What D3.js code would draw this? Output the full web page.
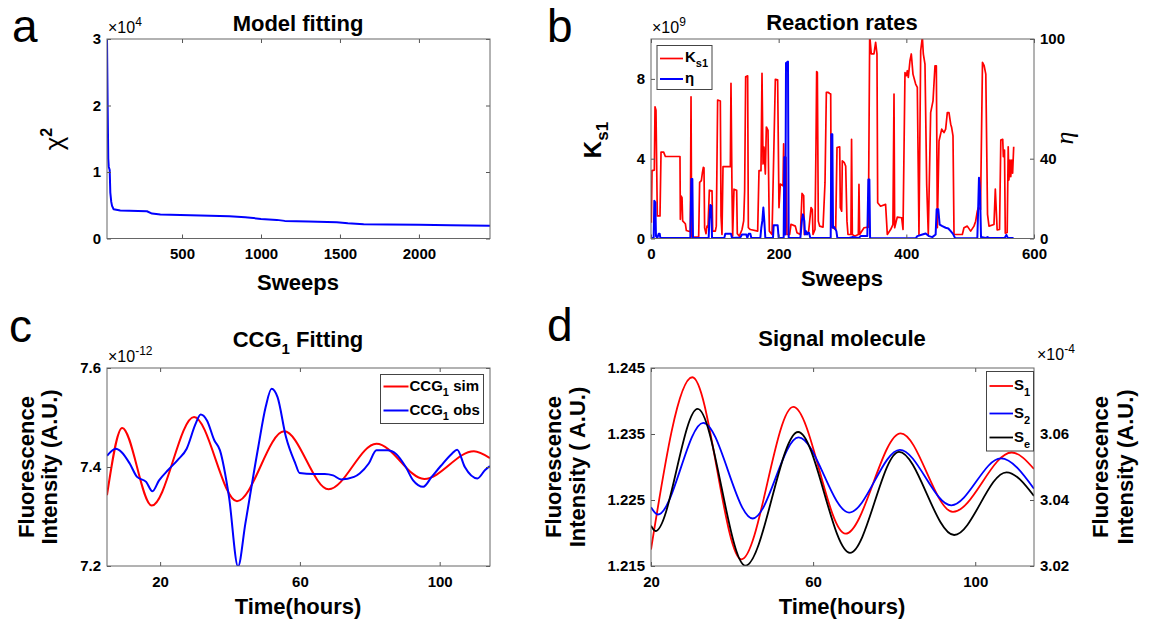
<!DOCTYPE html>
<html>
<head>
<meta charset="utf-8">
<script src="https://cdn.jsdelivr.net/npm/d3@7"></script>
<style>
body { margin: 0; background: #fff; }
</style>
</head>
<body>
<svg id="fig" width="1152" height="629"></svg>
<script>
// ---- data ----
// a: model fitting (chi^2 in units of 1e4)
var fitSweeps = [25, 29, 33, 36, 42, 46, 52, 57, 67, 109, 278, 310, 363, 616, 800, 900, 1000, 1100, 1150, 1300, 1480, 1550, 1650, 1800, 2000, 2200, 2450];
var fitChi2   = [3.0, 2.03, 1.2, 1.08, 1.03, 0.69, 0.55, 0.49, 0.44, 0.42, 0.41, 0.375, 0.36, 0.345, 0.335, 0.32, 0.295, 0.28, 0.265, 0.255, 0.245, 0.23, 0.215, 0.21, 0.205, 0.2, 0.19];

// b: reaction rates, Ks1 (units of 1e9) and eta
var ks1Sweep = [0.5,1.6,5.2,6.3,7.8,9.9,14.1,15.7,19.8,22.5,45.4,46,47,48.6,49.6,53.8,55.4,61.6,62.7,63.7,74.7,76.2,78.9,80.4,82,83,84,86.2,87.7,89.3,91.4,95.6,96.6,100.8,102.3,104.4,108.6,109.7,111.2,112.8,124.3,125.3,126.9,127.9,130,134.2,135.2,138.4,142.6,145.2,146.7,148.3,151.4,152.5,155.6,167.1,169.2,172.3,173.9,175.5,177,179.1,180.7,183.3,185.4,189.6,194.8,198.4,200.5,202.6,206.8,207.8,209.4,211.5,213,217.2,219.3,226.1,228.7,234,236.6,239.2,240.2,244.4,247,250.7,252.7,253.8,256.9,258.5,259.5,260.6,262.1,264.2,269.5,272.6,274.7,277.8,279.9,281.5,282.5,285.1,289.3,291.4,295.6,296.6,298.7,299.7,302.9,305,307,308.6,313.2,314.2,315.4,319.6,324.8,325.8,326.9,333.7,340.5,342.6,345.1,349.3,351.9,354,355.1,359.6,367.5,370.2,375.4,379,380.7,381.7,385.8,392.7,394.8,397.9,400,401.6,403.1,405.7,407.8,410.4,414.6,417.2,419.8,422.5,425.1,426.6,429.2,431.9,434.4,438.1,441.8,444.9,447,448.6,451.2,455.4,459,461.6,464.2,466.8,469.5,471,473.1,474.7,487.7,490.3,495.5,500.8,506,508.6,511.2,512.8,516.2,519.3,521.9,524.5,527.2,529.5,537.3,539.4,542.3,546,548,551,552,553.8,555,558,559.6,560.7,562.5,563.6,565.3,566.5,568.2];
var ks1Val = [0.79,3.4,3.43,6.6,6.43,1.13,1.13,4.33,4.33,4.11,4.11,0.96,2.14,2.05,0.88,0.74,0.4,0.34,7.1,0.07,0.07,2.81,2.9,3.27,3.57,3.54,0.54,0.24,0.62,0.57,2.42,2.39,0.37,0.37,0.62,6.94,6.89,1.13,0.2,3.6,3.6,7.78,2.39,0.12,2.47,2.42,0.24,0.12,0.45,0.88,2.39,8.11,8.15,0.54,0.45,0.37,3.4,3.4,8.28,3.74,4.58,3.23,5.59,5.42,0.37,0.2,7.98,7.95,1.55,2.73,2.64,4.75,1.46,4.07,0.2,0.2,0.71,0.62,0.29,0.2,2.26,2.14,0.2,0.24,0.37,1.55,1.46,0.2,0.45,4.75,8.37,8.32,0.87,0.62,0.57,2.8,7.32,7.32,7.27,7.24,0.57,0.54,0.45,4.56,4.59,1.54,1.37,3.89,3.8,3.63,0.87,0.2,0.2,4.97,0.2,0.12,0.2,2.71,0.2,0.54,0.57,10.2,9.25,9.25,9.83,9.25,1.79,1.62,1.71,0.2,0.45,0.7,7.24,0.54,1.07,1.04,0.45,8.32,8.16,8.41,8.07,8.91,9.25,8.24,7.74,7.57,0.2,9.41,10.1,9.25,8.74,2.71,0.2,6.31,6.9,8.66,8.66,0.54,4.89,5.48,5.31,5.48,6.31,6.31,5.73,5.56,5.14,0.2,0.2,0.54,0.62,0.37,0.62,0.87,1.37,1.54,1.46,8.83,8.66,8.24,1.21,0.62,0.7,2.48,0.43,0.45,4.93,4.97,4.1,4.43,0.27,0.3,4.6,2.93,3.93,3.1,3.93,3.27,4.6];
var etaSweep = [0.5,4.2,5.2,6.8,7.8,10,12,13.6,14.6,61.6,63.2,64.8,65.8,90.3,91.4,92.9,94.5,95.6,114.9,116.4,125.3,126.9,139.9,142.6,149.3,150.9,153,155.6,157.2,171.3,172.8,174.4,176,177.5,179.1,191.1,192.2,198.4,200,207.8,208.9,210.4,211.5,214.6,215.7,234,236.6,238.1,240.2,241.3,242.8,244.4,246,247.5,249.6,281.5,282.5,284.1,285.1,287.2,290.4,291.9,310.2,315.4,325.8,328.5,338.9,340.5,342.1,343.2,414.6,417.2,425.1,430.3,435.5,440.7,445.9,447.5,450.1,452.2,456.4,461.6,465.8,469.5,473.1,476.2,511.2,512.3,513.8,515.4,517,524.5,527.2,529.5,554,556.7,559,568];
var etaVal = [0.3,0.3,18.9,18,1.2,0.3,2.4,2.4,0.3,0.3,29.8,29.8,0.3,0.3,8.8,16.8,16.3,0.3,0.3,2.4,2.4,0.3,0.5,2,2,0.3,2.4,2.4,0.3,0.3,5.4,8.8,15.5,8.8,0.3,0.3,6.7,6.7,0.3,0.3,40.7,2,87.9,88.7,0.3,0.3,9.6,12.1,8.8,2,3.7,2,2.9,2.9,0.3,0.3,52.3,52.3,5.4,5.7,3.7,0.3,0.3,0.7,0.3,1.2,1.2,29.6,29.6,0.1,0.1,1.2,2,2.5,1.2,0.7,2,14.6,14.6,7,6.2,5.4,5,3.7,2.3,0.3,0.1,12,30.5,23.8,0.7,0.3,0.7,0.3,0.3,1.8,0.3,0.3];

// c: CCG1 fitting (units of 1e-12)
var ccgSimTime = [4.8, 9.15, 17.6, 29.7, 42.0, 55.5, 68.2, 81.9, 95.6, 109.8, 114.4];
var ccgSimVal  = [7.343, 7.479, 7.322, 7.501, 7.331, 7.472, 7.355, 7.447, 7.376, 7.432, 7.418];
var ccgObsTime = [4.8,7.3,9,11.3,13.4,16,17.8,19.7,22.3,25,27.6,30.2,31.6,33.4,35.5,37.1,39.7,42.3,44.4,48.1,50.2,51.9,53.6,56,58.7,59.9,63.9,67.1,69.5,71.8,75.5,77.1,79.7,81.9,85,87.6,90.3,92.4,95.3,97.7,100.3,103.5,105,107.2,110.8,113,114.4];
var ccgObsVal  = [7.4225,7.437,7.43,7.407,7.38,7.37,7.351,7.373,7.394,7.414,7.437,7.488,7.506,7.494,7.454,7.434,7.34,7.199,7.286,7.441,7.521,7.558,7.541,7.461,7.407,7.388,7.386,7.386,7.383,7.375,7.38,7.387,7.407,7.434,7.434,7.426,7.4,7.373,7.36,7.38,7.402,7.427,7.435,7.4,7.377,7.394,7.402];

// d: signal molecule (S1, S2 on left axis; Se on right axis, units of 1e-4)
var s1Time = [20, 30.2, 42.3, 55.1, 68.0, 81.6, 94.5, 109.0, 114.5];
var s1Val  = [1.2175, 1.2436, 1.2160, 1.2391, 1.2199, 1.2351, 1.2232, 1.2322, 1.2297];
var s2Time = [20, 21.7, 32.9, 45.1, 56.4, 68.9, 81.4, 94.1, 106.3, 114.5];
var s2Val  = [1.2239, 1.2228, 1.2367, 1.2222, 1.2345, 1.2231, 1.2326, 1.2242, 1.2313, 1.2267];
var seTime = [20, 21.1, 31.5, 43.3, 56.3, 69.1, 81.2, 94.8, 107.7, 114.5];
var seVal  = [3.0322, 3.0306, 3.0676, 3.0201, 3.0606, 3.0240, 3.0546, 3.0294, 3.0484, 3.0412];

// tick labels
var aXTicks = [500, 1000, 1500, 2000], aYTicks = [0, 1, 2, 3];
var bXTicks = [0, 200, 400, 600], bYTicks = [0, 4, 8], bRTicks = [0, 40, 100];
var cXTicks = [20, 60, 100], cYTicks = [7.2, 7.4, 7.6];
var dXTicks = [20, 60, 100], dYTicks = [1.215, 1.225, 1.235, 1.245], dRTicks = [3.02, 3.04, 3.06];

var FONT = "Arial, 'Liberation Sans', Helvetica, sans-serif";
var svg = d3.select("#fig");

var boxA = { x0: 107, x1: 490, y0: 39, y1: 238.5 },
    boxB = { x0: 651, x1: 1034, y0: 39, y1: 238.5 },
    boxC = { x0: 107, x1: 490, y0: 368, y1: 566 },
    boxD = { x0: 651, x1: 1034, y0: 368, y1: 566 };

function styleAxis(g) {
    g.attr("font-family", FONT).attr("font-size", 15).attr("font-weight", "bold");
    g.select(".domain").remove();
    g.selectAll(".tick line").attr("stroke", "#555");
    g.selectAll(".tick text").attr("fill", "#000");
}

// box with inward ticks on all four sides
function frame(box, x, y, xTicks, yTicks, yFmt, yR, rTicks, rFmt) {
    svg.append("g").attr("transform", "translate(0," + box.y1 + ")")
        .call(d3.axisBottom(x).tickValues(xTicks).tickSizeInner(-4).tickSizeOuter(0).tickPadding(10).tickFormat(d3.format("d")))
        .call(styleAxis);
    svg.append("g").attr("transform", "translate(0," + box.y0 + ")")
        .call(d3.axisTop(x).tickValues(xTicks).tickSizeInner(-4).tickSizeOuter(0).tickFormat(""))
        .call(styleAxis);
    svg.append("g").attr("transform", "translate(" + box.x0 + ",0)")
        .call(d3.axisLeft(y).tickValues(yTicks).tickSizeInner(-4).tickSizeOuter(0).tickPadding(6).tickFormat(yFmt))
        .call(styleAxis);
    var right = yR ? d3.axisRight(yR).tickValues(rTicks).tickFormat(rFmt).tickPadding(6)
                   : d3.axisRight(y).tickValues(yTicks).tickFormat("");
    svg.append("g").attr("transform", "translate(" + box.x1 + ",0)")
        .call(right.tickSizeInner(-4).tickSizeOuter(0))
        .call(styleAxis);
    svg.append("rect")
        .attr("x", box.x0).attr("y", box.y0)
        .attr("width", box.x1 - box.x0).attr("height", box.y1 - box.y0)
        .attr("fill", "none").attr("stroke", "#666").attr("stroke-width", 1);
}

function clipFor(id, box) {
    svg.append("clipPath").attr("id", id).append("rect")
        .attr("x", box.x0).attr("y", box.y0)
        .attr("width", box.x1 - box.x0).attr("height", box.y1 - box.y0);
    return "url(#" + id + ")";
}

function drawLine(xs, ys, x, y, color, w, clip, curve) {
    var pts = xs.map(function(d, i) { return [d, ys[i]]; });
    var line = d3.line().x(function(d) { return x(d[0]); }).y(function(d) { return y(d[1]); });
    if (curve) line.curve(curve);
    svg.append("path").datum(pts)
        .attr("d", line)
        .attr("fill", "none")
        .attr("stroke", color)
        .attr("stroke-width", w)
        .attr("stroke-linejoin", "round")
        .attr("clip-path", clip);
}

function txt(x, y, s, size, weight, anchor) {
    return svg.append("text").attr("x", x).attr("y", y)
        .attr("font-family", FONT).attr("font-size", size)
        .attr("font-weight", weight || "bold")
        .attr("text-anchor", anchor || "start")
        .text(s);
}

function expLabel(x, y, e) {
    var t = txt(x, y, "×10", 16, "normal");
    t.append("tspan").attr("dy", -7).attr("font-size", 12).text(e);
}

function vlabel(x, y, s, size) {
    return svg.append("text")
        .attr("transform", "translate(" + x + "," + y + ") rotate(-90)")
        .attr("font-family", FONT).attr("font-size", size || 22)
        .attr("font-weight", "bold").attr("text-anchor", "middle")
        .text(s);
}

function legendBox(x0, y0, x1, y1) {
    svg.append("rect").attr("x", x0).attr("y", y0)
        .attr("width", x1 - x0).attr("height", y1 - y0)
        .attr("fill", "#fff").attr("stroke", "#444").attr("stroke-width", 1);
}

function legendLine(x0, x1, y, color, w) {
    svg.append("line").attr("x1", x0).attr("x2", x1).attr("y1", y).attr("y2", y)
        .attr("stroke", color).attr("stroke-width", w);
}

// panel letters
txt(12, 42, "a", 46, "normal");
txt(547, 42, "b", 46, "normal");
txt(9, 342, "c", 46, "normal");
txt(547, 341, "d", 46, "normal");

// ---------- a: Model fitting ----------
var xA = d3.scaleLinear().domain([25, 2450]).range([boxA.x0, boxA.x1]);
var yA = d3.scaleLinear().domain([0, 3]).range([boxA.y1, boxA.y0]);
drawLine(fitSweeps, fitChi2, xA, yA, "#0000ff", 2, clipFor("clipA", boxA));
frame(boxA, xA, yA, aXTicks, aYTicks, d3.format("d"));
expLabel(108, 33, "4");
txt(298, 31, "Model fitting", 22, "bold", "middle");
txt(298, 290, "Sweeps", 22, "bold", "middle");
var chi = svg.append("text")
    .attr("transform", "translate(63,139) rotate(-90)")
    .attr("font-family", FONT).attr("font-size", 26).attr("text-anchor", "middle")
    .text("χ");
chi.append("tspan").attr("dy", -11).attr("font-size", 16).attr("font-weight", "bold").text("2");

// ---------- b: Reaction rates ----------
var xB = d3.scaleLinear().domain([0, 600]).range([boxB.x0, boxB.x1]);
var yB = d3.scaleLinear().domain([0, 10]).range([boxB.y1, boxB.y0]);
var yBR = d3.scaleLinear().domain([0, 100]).range([boxB.y1, boxB.y0]);
var clipB = clipFor("clipB", boxB);
drawLine(ks1Sweep, ks1Val, xB, yB, "#ff0000", 1.7, clipB);
drawLine(etaSweep, etaVal, xB, yBR, "#0000ff", 2, clipB);
frame(boxB, xB, yB, bXTicks, bYTicks, d3.format("d"), yBR, bRTicks, d3.format("d"));
expLabel(652, 33, "9");
txt(842, 30, "Reaction rates", 22, "bold", "middle");
txt(842, 286, "Sweeps", 22, "bold", "middle");
var kl = svg.append("text")
    .attr("transform", "translate(601,140) rotate(-90)")
    .attr("font-family", FONT).attr("font-size", 24).attr("font-weight", "bold")
    .attr("text-anchor", "middle").text("K");
kl.append("tspan").attr("dy", 7).attr("font-size", 17).text("s1");
svg.append("text")
    .attr("transform", "translate(1073,138) rotate(-90)")
    .attr("font-family", "'Liberation Serif', 'Times New Roman', serif")
    .attr("font-size", 26).attr("font-style", "italic").attr("text-anchor", "middle")
    .text("η");
legendBox(657, 45.5, 712, 89.5);
legendLine(660, 683, 58.5, "#ff0000", 1.7);
var lk = txt(685, 62, "K", 15, "bold");
lk.append("tspan").attr("dy", 5).attr("font-size", 11).text("s1");
legendLine(660, 683, 79, "#0000ff", 2);
txt(685, 83, "η", 15, "bold");

// ---------- c: CCG1 Fitting ----------
var xC = d3.scaleLinear().domain([4.8, 114.4]).range([boxC.x0, boxC.x1]);
var yC = d3.scaleLinear().domain([7.2, 7.6]).range([boxC.y1, boxC.y0]);
var clipC = clipFor("clipC", boxC);
drawLine(ccgSimTime, ccgSimVal, xC, yC, "#ff0000", 2, clipC, d3.curveMonotoneX);
drawLine(ccgObsTime, ccgObsVal, xC, yC, "#0000ff", 2, clipC, d3.curveMonotoneX);
frame(boxC, xC, yC, cXTicks, cYTicks, d3.format(".1f"));
expLabel(108, 362, "-12");
var ct = txt(298, 347, "CCG", 22, "bold", "middle");
ct.append("tspan").attr("dy", 7).attr("font-size", 15).text("1");
ct.append("tspan").attr("dy", -7).text(" Fitting");
txt(298, 614, "Time(hours)", 22, "bold", "middle");
vlabel(34, 467, "Fluorescence");
vlabel(57, 467, "Intensity (A.U.)");
legendBox(380.5, 374.5, 483.5, 423.5);
legendLine(383.5, 408.5, 386.5, "#ff0000", 2);
var l1 = txt(409.5, 391, "CCG", 15, "bold");
l1.append("tspan").attr("dy", 5).attr("font-size", 11).text("1");
l1.append("tspan").attr("dy", -5).text(" sim");
legendLine(383.5, 408.5, 410.5, "#0000ff", 2);
var l2 = txt(409.5, 415, "CCG", 15, "bold");
l2.append("tspan").attr("dy", 5).attr("font-size", 11).text("1");
l2.append("tspan").attr("dy", -5).text(" obs");

// ---------- d: Signal molecule ----------
var xD = d3.scaleLinear().domain([20, 114.5]).range([boxD.x0, boxD.x1]);
var yD = d3.scaleLinear().domain([1.215, 1.245]).range([boxD.y1, boxD.y0]);
var yDR = d3.scaleLinear().domain([3.02, 3.08]).range([boxD.y1, boxD.y0]);
var clipD = clipFor("clipD", boxD);
drawLine(s1Time, s1Val, xD, yD, "#ff0000", 1.8, clipD, d3.curveMonotoneX);
drawLine(s2Time, s2Val, xD, yD, "#0000ff", 1.8, clipD, d3.curveMonotoneX);
drawLine(seTime, seVal, xD, yDR, "#000000", 1.8, clipD, d3.curveMonotoneX);
frame(boxD, xD, yD, dXTicks, dYTicks, d3.format(".3f"), yDR, dRTicks, d3.format(".2f"));
expLabel(1037, 360, "-4");
txt(842, 346, "Signal molecule", 22, "bold", "middle");
txt(842, 614, "Time(hours)", 22, "bold", "middle");
vlabel(561, 467, "Fluorescence");
vlabel(585, 467, "Intensity ( A.U.)");
vlabel(1108, 467, "Fluorescence");
vlabel(1133, 467, "Intensity (A.U.)");
legendBox(986.5, 371.5, 1033.5, 451);
var legD = [["1", "#ff0000", 386], ["2", "#0000ff", 413.5], ["e", "#000000", 437.5]];
legD.forEach(function(d) {
    legendLine(989.5, 1013, d[2], d[1], 1.8);
    var t = txt(1014, d[2] + 4, "S", 15, "bold");
    t.append("tspan").attr("dy", 6).attr("font-size", 11).text(d[0]);
});
</script>
</body>
</html>
